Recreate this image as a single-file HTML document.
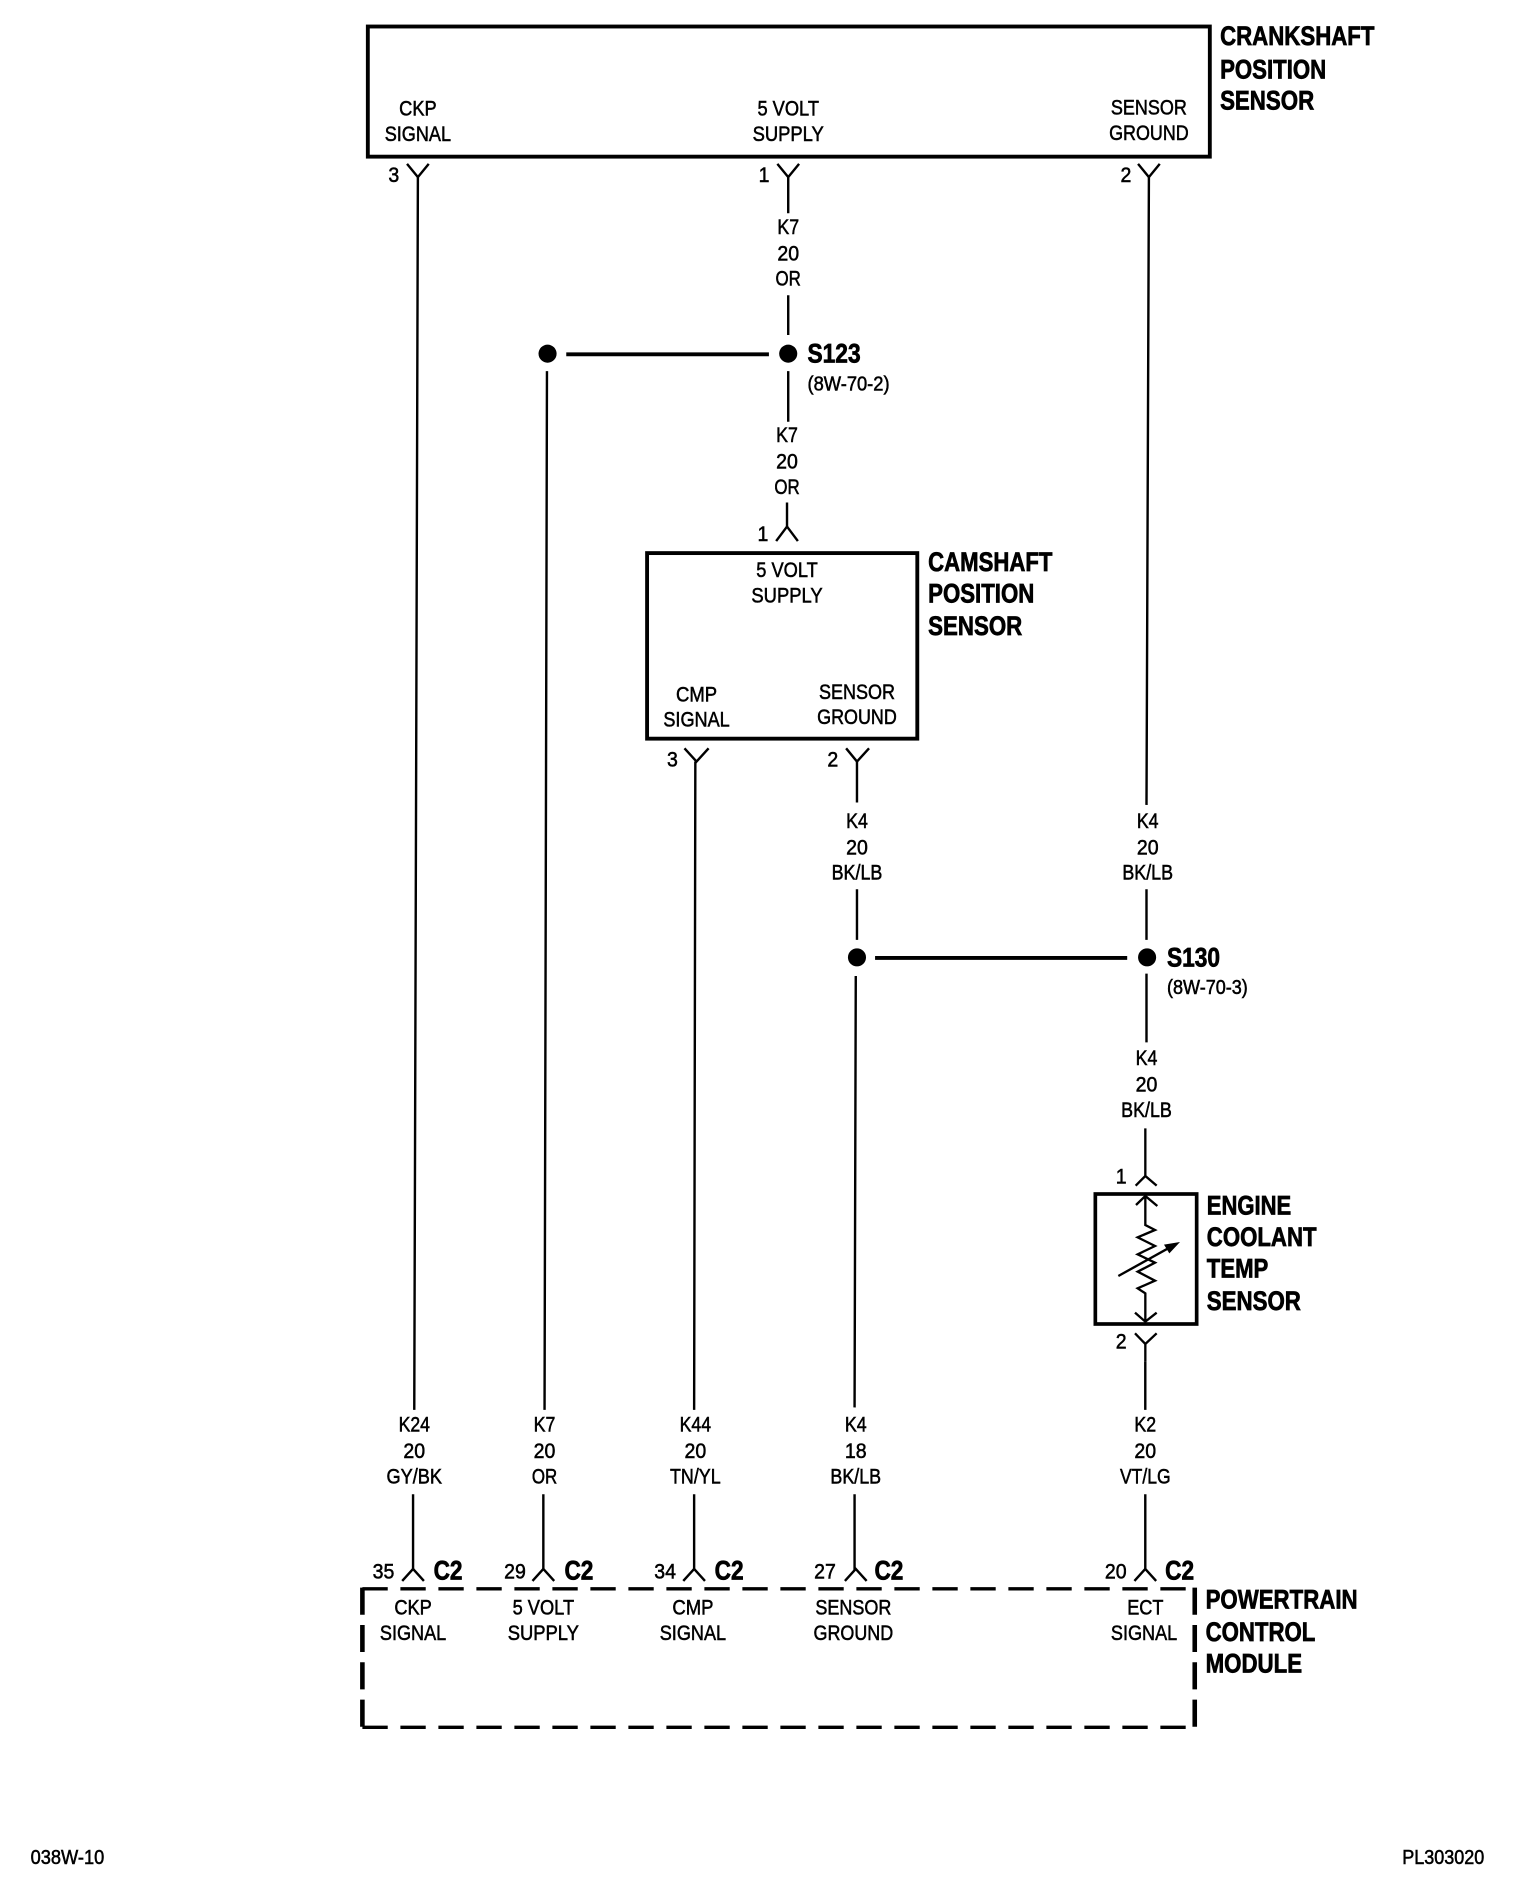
<!DOCTYPE html>
<html><head><meta charset="utf-8"><style>
html,body{margin:0;padding:0;background:#fff;width:1520px;height:1890px;overflow:hidden}
svg{display:block}
text{font-family:"Liberation Sans",sans-serif;fill:#000;font-size:18px;stroke:#000;stroke-width:.45px;text-anchor:middle}
text.b{font-weight:bold;font-size:22px;text-anchor:start;stroke-width:.6px}
text.s{font-size:16.5px;text-anchor:start}
.w{fill:none;stroke:#000;stroke-width:2}
.h{fill:none;stroke:#000;stroke-width:3.2}
</style></head><body>
<svg width="1520" height="1890" viewBox="0 0 1520 1890" xmlns="http://www.w3.org/2000/svg">
<rect width="1520" height="1890" fill="#fff"/>
<g transform="translate(-0.7,0) scale(1.2063,1.205)">
<!-- boxes -->
<rect class="h" x="305.500" y="22" width="698" height="108"/>
<rect class="h" x="537" y="459" width="224" height="154"/>
<!-- PCM dashed -->
<path d="M301 1318.500H992" fill="none" stroke="#000" stroke-width="2.8" stroke-dasharray="21 10.5"/>
<path d="M301 1433.500H992" fill="none" stroke="#000" stroke-width="2.8" stroke-dasharray="21 10.5"/>
<path d="M301 1317.500V1434" fill="none" stroke="#000" stroke-width="3.8" stroke-dasharray="22.500 8.500"/>
<path d="M991 1317.500V1434" fill="none" stroke="#000" stroke-width="3.8" stroke-dasharray="22.500 8.500"/>
<!-- wires -->
<path class="w" d="M347 147L344 1170M343 1240V1303"/>
<path class="w" d="M654 147V177M654 245V278M654 308V350M653 417V437"/>
<path class="w" d="M454 308L452 1170M451 1240V1303"/>
<path class="w" d="M577 632L576 1170M576 1240V1303"/>
<path class="w" d="M711 632V666M711 738V780M710 810L709 1168M709 1240V1303"/>
<path class="w" d="M953 147L951 668M951 738V780M951 808V865"/>
<path class="w" d="M950 1130V1170M950 1240V1303"/>
<!-- Y pins -->
<path class="w" d="M338 136L347 147L356 136M645 136L654 147L663 136M944 136L953 147L962 136"/>
<path class="w" d="M568 621L578 632L588 621M702 621L711 632L721 621"/>
<path class="w" d="M644 449L653 437L662 449"/>
<path class="w" d="M334 1312L343 1302L352 1312M442 1312L451 1302L460 1312M567 1312L576 1302L585 1312M701 1312L710 1302L719 1312M941 1312L950 1302L959 1312"/>
<!-- splices -->
<circle cx="454.500" cy="293.500" r="7.500"/><circle cx="654" cy="293.500" r="7.500"/>
<path class="h" d="M470 294H638"/>
<circle cx="711" cy="794.500" r="7.500"/><circle cx="951.500" cy="794.500" r="7.500"/>
<path class="h" d="M726 795H935"/>
<!-- top sensor labels -->
<text x="347" y="96" textLength="31" lengthAdjust="spacingAndGlyphs">CKP</text>
<text x="347" y="117" textLength="55" lengthAdjust="spacingAndGlyphs">SIGNAL</text>
<text x="654" y="96" textLength="51" lengthAdjust="spacingAndGlyphs">5 VOLT</text>
<text x="654" y="117" textLength="59" lengthAdjust="spacingAndGlyphs">SUPPLY</text>
<text x="953" y="95" textLength="63" lengthAdjust="spacingAndGlyphs">SENSOR</text>
<text x="953" y="116" textLength="66" lengthAdjust="spacingAndGlyphs">GROUND</text>
<text class="b" x="1012" y="37.500" textLength="128" lengthAdjust="spacingAndGlyphs">CRANKSHAFT</text>
<text class="b" x="1012" y="65" textLength="88" lengthAdjust="spacingAndGlyphs">POSITION</text>
<text class="b" x="1012" y="91" textLength="78" lengthAdjust="spacingAndGlyphs">SENSOR</text>
<text x="327" y="151" textLength="9" lengthAdjust="spacingAndGlyphs">3</text><text x="634" y="151" textLength="9" lengthAdjust="spacingAndGlyphs">1</text><text x="934" y="151" textLength="9" lengthAdjust="spacingAndGlyphs">2</text>
<!-- K7 -->
<text x="654" y="194" textLength="18" lengthAdjust="spacingAndGlyphs">K7</text>
<text x="654" y="216" textLength="18" lengthAdjust="spacingAndGlyphs">20</text>
<text x="654" y="237" textLength="21" lengthAdjust="spacingAndGlyphs">OR</text>
<text class="b" x="670" y="301" textLength="44" lengthAdjust="spacingAndGlyphs">S123</text>
<text class="s" x="670" y="324" textLength="68" lengthAdjust="spacingAndGlyphs">(8W-70-2)</text>
<text x="653" y="367" textLength="18" lengthAdjust="spacingAndGlyphs">K7</text>
<text x="653" y="389" textLength="18" lengthAdjust="spacingAndGlyphs">20</text>
<text x="653" y="410" textLength="21" lengthAdjust="spacingAndGlyphs">OR</text>
<text x="633" y="449" textLength="9" lengthAdjust="spacingAndGlyphs">1</text>
<!-- camshaft -->
<text x="653" y="479" textLength="51" lengthAdjust="spacingAndGlyphs">5 VOLT</text>
<text x="653" y="500" textLength="59" lengthAdjust="spacingAndGlyphs">SUPPLY</text>
<text x="578" y="582" textLength="34" lengthAdjust="spacingAndGlyphs">CMP</text>
<text x="578" y="603" textLength="55" lengthAdjust="spacingAndGlyphs">SIGNAL</text>
<text x="711" y="580" textLength="63" lengthAdjust="spacingAndGlyphs">SENSOR</text>
<text x="711" y="601" textLength="66" lengthAdjust="spacingAndGlyphs">GROUND</text>
<text class="b" x="770" y="474" textLength="103" lengthAdjust="spacingAndGlyphs">CAMSHAFT</text>
<text class="b" x="770" y="500" textLength="88" lengthAdjust="spacingAndGlyphs">POSITION</text>
<text class="b" x="770" y="527" textLength="78" lengthAdjust="spacingAndGlyphs">SENSOR</text>
<text x="558" y="636" textLength="9" lengthAdjust="spacingAndGlyphs">3</text><text x="691" y="636" textLength="9" lengthAdjust="spacingAndGlyphs">2</text>
<!-- K4 -->
<text x="711" y="687" textLength="18" lengthAdjust="spacingAndGlyphs">K4</text>
<text x="711" y="709" textLength="18" lengthAdjust="spacingAndGlyphs">20</text>
<text x="711" y="730" textLength="42" lengthAdjust="spacingAndGlyphs">BK/LB</text>
<text x="952" y="687" textLength="18" lengthAdjust="spacingAndGlyphs">K4</text>
<text x="952" y="709" textLength="18" lengthAdjust="spacingAndGlyphs">20</text>
<text x="952" y="730" textLength="42" lengthAdjust="spacingAndGlyphs">BK/LB</text>
<text class="b" x="968" y="802" textLength="44" lengthAdjust="spacingAndGlyphs">S130</text>
<text class="s" x="968" y="825" textLength="67" lengthAdjust="spacingAndGlyphs">(8W-70-3)</text>
<text x="951" y="884" textLength="18" lengthAdjust="spacingAndGlyphs">K4</text>
<text x="951" y="906" textLength="18" lengthAdjust="spacingAndGlyphs">20</text>
<text x="951" y="927" textLength="42" lengthAdjust="spacingAndGlyphs">BK/LB</text>
<text x="930" y="982" textLength="9" lengthAdjust="spacingAndGlyphs">1</text><text x="930" y="1119" textLength="9" lengthAdjust="spacingAndGlyphs">2</text>
<text class="b" x="1001" y="1008" textLength="70" lengthAdjust="spacingAndGlyphs">ENGINE</text>
<text class="b" x="1001" y="1034" textLength="91" lengthAdjust="spacingAndGlyphs">COOLANT</text>
<text class="b" x="1001" y="1060" textLength="51" lengthAdjust="spacingAndGlyphs">TEMP</text>
<text class="b" x="1001" y="1087" textLength="78" lengthAdjust="spacingAndGlyphs">SENSOR</text>
<!-- lower wire labels -->
<text x="344" y="1188" textLength="26" lengthAdjust="spacingAndGlyphs">K24</text>
<text x="344" y="1210" textLength="18" lengthAdjust="spacingAndGlyphs">20</text>
<text x="344" y="1231" textLength="46" lengthAdjust="spacingAndGlyphs">GY/BK</text>
<text x="452" y="1188" textLength="18" lengthAdjust="spacingAndGlyphs">K7</text>
<text x="452" y="1210" textLength="18" lengthAdjust="spacingAndGlyphs">20</text>
<text x="452" y="1231" textLength="21" lengthAdjust="spacingAndGlyphs">OR</text>
<text x="577" y="1188" textLength="26" lengthAdjust="spacingAndGlyphs">K44</text>
<text x="577" y="1210" textLength="18" lengthAdjust="spacingAndGlyphs">20</text>
<text x="577" y="1231" textLength="42" lengthAdjust="spacingAndGlyphs">TN/YL</text>
<text x="710" y="1188" textLength="18" lengthAdjust="spacingAndGlyphs">K4</text>
<text x="710" y="1210" textLength="18" lengthAdjust="spacingAndGlyphs">18</text>
<text x="710" y="1231" textLength="42" lengthAdjust="spacingAndGlyphs">BK/LB</text>
<text x="950" y="1188" textLength="18" lengthAdjust="spacingAndGlyphs">K2</text>
<text x="950" y="1210" textLength="18" lengthAdjust="spacingAndGlyphs">20</text>
<text x="950" y="1231" textLength="42" lengthAdjust="spacingAndGlyphs">VT/LG</text>
<!-- C2 row -->
<text x="318.500" y="1310" textLength="18" lengthAdjust="spacingAndGlyphs">35</text>
<text x="427.500" y="1310" textLength="18" lengthAdjust="spacingAndGlyphs">29</text>
<text x="552" y="1310" textLength="18" lengthAdjust="spacingAndGlyphs">34</text>
<text x="684.500" y="1310" textLength="18" lengthAdjust="spacingAndGlyphs">27</text>
<text x="925.500" y="1310" textLength="18" lengthAdjust="spacingAndGlyphs">20</text>
<text class="b" x="360" y="1311" textLength="24" lengthAdjust="spacingAndGlyphs">C2</text>
<text class="b" x="468.500" y="1311" textLength="24" lengthAdjust="spacingAndGlyphs">C2</text>
<text class="b" x="593" y="1311" textLength="24" lengthAdjust="spacingAndGlyphs">C2</text>
<text class="b" x="725.500" y="1311" textLength="24" lengthAdjust="spacingAndGlyphs">C2</text>
<text class="b" x="966.500" y="1311" textLength="24" lengthAdjust="spacingAndGlyphs">C2</text>
<!-- PCM labels -->
<text x="343" y="1340" textLength="31" lengthAdjust="spacingAndGlyphs">CKP</text>
<text x="343" y="1361" textLength="55" lengthAdjust="spacingAndGlyphs">SIGNAL</text>
<text x="451" y="1340" textLength="51" lengthAdjust="spacingAndGlyphs">5 VOLT</text>
<text x="451" y="1361" textLength="59" lengthAdjust="spacingAndGlyphs">SUPPLY</text>
<text x="575" y="1340" textLength="34" lengthAdjust="spacingAndGlyphs">CMP</text>
<text x="575" y="1361" textLength="55" lengthAdjust="spacingAndGlyphs">SIGNAL</text>
<text x="708" y="1340" textLength="63" lengthAdjust="spacingAndGlyphs">SENSOR</text>
<text x="708" y="1361" textLength="66" lengthAdjust="spacingAndGlyphs">GROUND</text>
<text x="950" y="1340" textLength="30" lengthAdjust="spacingAndGlyphs">ECT</text>
<text x="949" y="1361" textLength="55" lengthAdjust="spacingAndGlyphs">SIGNAL</text>
<text class="b" x="1000" y="1335" textLength="126" lengthAdjust="spacingAndGlyphs">POWERTRAIN</text>
<text class="b" x="1000" y="1362" textLength="91" lengthAdjust="spacingAndGlyphs">CONTROL</text>
<text class="b" x="1000" y="1388" textLength="80" lengthAdjust="spacingAndGlyphs">MODULE</text>
<!-- footer -->
<text class="s" x="26" y="1547" textLength="61" lengthAdjust="spacingAndGlyphs">038W-10</text>
<text class="s" x="1163" y="1547" textLength="68" lengthAdjust="spacingAndGlyphs">PL303020</text>
</g>
<!-- engine coolant sensor (fine detail) -->
<g transform="translate(1040,1120) scale(.33333)" fill="none" stroke="#000">
<rect x="166" y="222" width="304" height="390" stroke-width="11"/>
<path stroke-width="7" d="M316 25V170M287 197L316 168L350 197"/>
<path stroke-width="7" d="M288 255L316 228L352 258M316 228V315L345 330L293 352L345 378L293 403L345 428L293 455L345 482L293 505L316 520V605M285 578L316 605L350 578"/>
<path stroke-width="7" d="M235 468L390 382"/>
<path fill="#000" stroke="none" d="M420 366L372 374L388 400Z"/>
<path stroke-width="7" d="M285 640L316 672L350 640M316 672V725"/>
</g>
</svg>
</body></html>
